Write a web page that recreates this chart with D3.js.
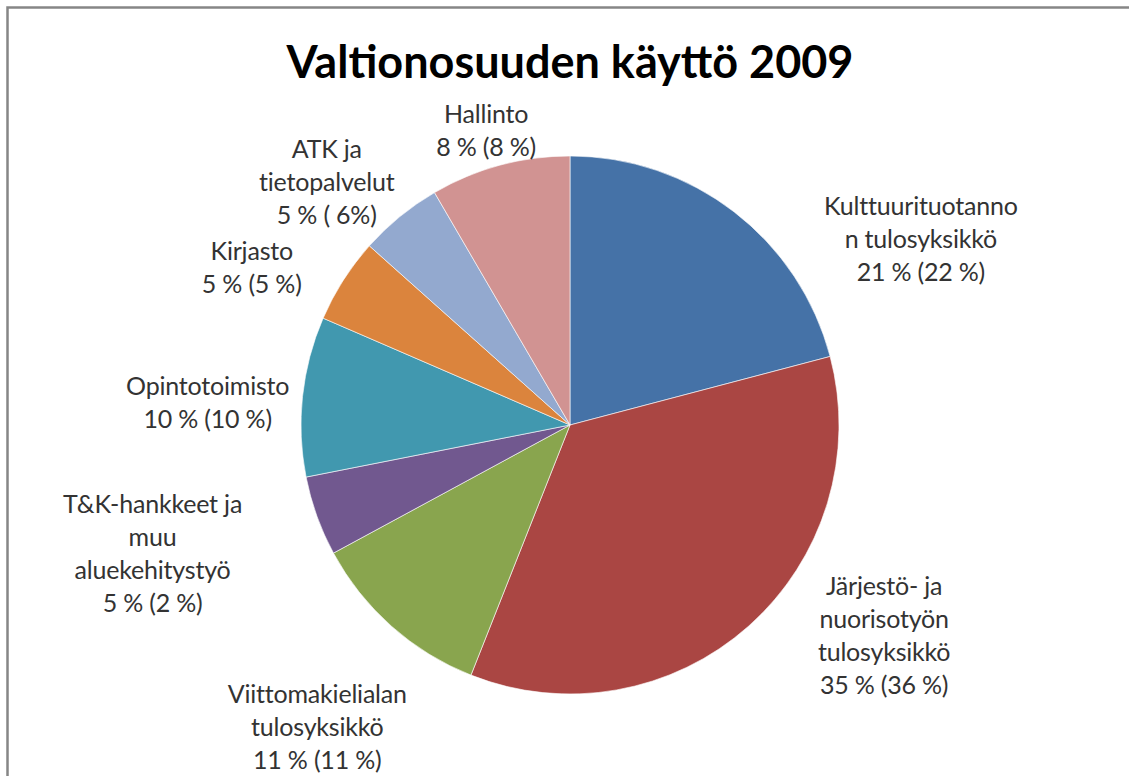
<!DOCTYPE html>
<html>
<head>
<meta charset="utf-8">
<script src="https://cdn.jsdelivr.net/npm/d3@7"></script>
<style>
  body { margin: 0; background: #fff; }
  svg { display: block; }
</style>
</head>
<body>
<div id="chart"></div>
<script>
// Valtionosuuden käyttö 2009 – osuudet (suluissa edellisen vuoden osuus)
const categories = [
  ['Kulttuurituotanno', 'n tulosyksikkö'],
  ['Järjestö- ja', 'nuorisotyön', 'tulosyksikkö'],
  ['Viittomakielialan', 'tulosyksikkö'],
  ['T&K-hankkeet ja', 'muu', 'aluekehitystyö'],
  ['Opintotoimisto'],
  ['Kirjasto'],
  ['ATK ja', 'tietopalvelut'],
  ['Hallinto']
];
const values = [20.9, 35.1, 11.1, 4.8, 9.6, 5.1, 5.0, 8.4];
const valueLabels = ['21 % (22 %)', '35 % (36 %)', '11 % (11 %)', '5 % (2 %)',
  '10 % (10 %)', '5 % (5 %)', '5 % ( 6%)', '8 % (8 %)'];
const colors = ['#4572A7', '#AA4643', '#89A54E', '#71588F', '#4198AF', '#DB843D', '#93A9CF', '#D19392'];

// label placement (angle in degrees from 12 o'clock, distance from pie centre)
const labelPlacement = [[62.1, 397], [123.8, 378], [219.9, 394], [252.8, 437],
  [273.5, 363], [296.3, 355], [315, 344], [344.1, 306]];

const width = 1129, height = 776;
const cx = 570, cy = 425, radius = 269;
const lineHeight = 33;

const svg = d3.select('#chart').append('svg')
  .attr('width', width)
  .attr('height', height);

svg.append('rect')
  .attr('x', 7.5).attr('y', 7.5)
  .attr('width', width + 20).attr('height', height + 20)
  .attr('fill', '#fff')
  .attr('stroke', '#868686')
  .attr('stroke-width', 2.5);

svg.append('text')
  .attr('x', cx).attr('y', 78)
  .attr('text-anchor', 'middle')
  .style('font-family', 'Lato, "Open Sans", sans-serif')
  .style('font-weight', 700)
  .style('font-size', '45px')
  .style('fill', '#000')
  .text('Valtionosuuden käyttö 2009');

const pie = d3.pie().sort(null).value(d => d);
const arc = d3.arc().innerRadius(0).outerRadius(radius);
const arcs = pie(values);

const g = svg.append('g').attr('transform', `translate(${cx},${cy})`);

g.selectAll('path.slice')
  .data(arcs)
  .enter()
  .append('path')
  .attr('class', 'slice')
  .attr('d', arc)
  .attr('fill', (d, i) => colors[i])
  .attr('stroke', '#fff')
  .attr('stroke-width', 0.6);

const labels = g.selectAll('g.label')
  .data(arcs)
  .enter()
  .append('g')
  .attr('class', 'label')
  .attr('transform', (d, i) => {
    const p = d3.pointRadial(labelPlacement[i][0] * Math.PI / 180, labelPlacement[i][1]);
    return `translate(${p[0]},${p[1]})`;
  });

labels.each(function(d, i) {
  const lines = categories[i].concat([valueLabels[i]]);
  const t = d3.select(this).append('text')
    .attr('text-anchor', 'middle')
    .style('font-family', 'Lato, "Open Sans", sans-serif')
    .style('font-size', '25px')
    .style('fill', '#333')
    .style('letter-spacing', '-0.2px');
  const y0 = -(lines.length - 1) * lineHeight / 2;
  lines.forEach((s, k) => {
    t.append('tspan')
      .attr('x', 0)
      .attr('y', y0 + k * lineHeight)
      .attr('dy', '0.35em')
      .text(s);
  });
});
</script>
</body>
</html>
